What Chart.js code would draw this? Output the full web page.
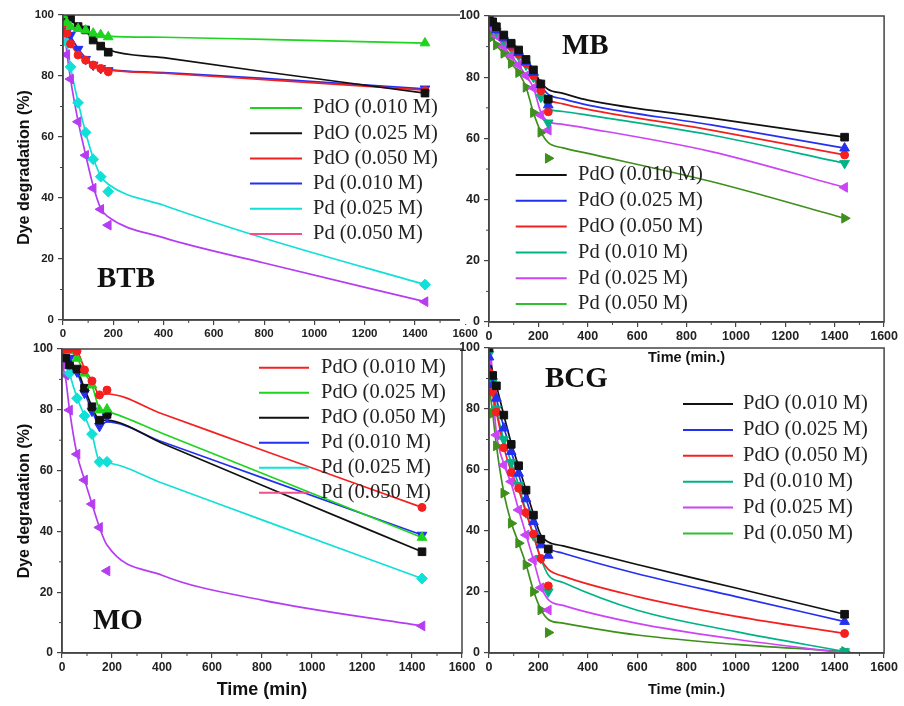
<!DOCTYPE html>
<html lang="en">
<head>
<meta charset="UTF-8">
<title>Dye degradation - BTB, MB, MO, BCG</title>
<script src="https://cdn.jsdelivr.net/npm/chart.js"></script>
<style>
  body { margin: 0; background: #fff; }
  #wrap { position: relative; width: 904px; height: 706px; overflow: hidden; }
  .panel { position: absolute; }
</style>
</head>
<body>
<div id="wrap">
  <div class="panel" style="left:0;top:0;width:480px;height:350px"><canvas id="cBTB"></canvas></div>
  <div class="panel" style="left:0;top:330px;width:480px;height:376px"><canvas id="cMO"></canvas></div>
  <div class="panel" style="left:450px;top:0;width:450px;height:372px"><canvas id="cMB"></canvas></div>
  <div class="panel" style="left:450px;top:330px;width:450px;height:376px"><canvas id="cBCG"></canvas></div>
</div>
<script>
// --- data ---
const xTicks = [0, 200, 400, 600, 800, 1000, 1200, 1400, 1600];
const yTicks = [0, 20, 40, 60, 80, 100];

const btbNames = ['PdO (0.010 M)', 'PdO (0.025 M)', 'PdO (0.050 M)', 'Pd (0.010 M)', 'Pd (0.025 M)', 'Pd (0.050 M)'];
const mbNames = btbNames;
const moNames = btbNames;
const bcgNames = btbNames;

// BTB
const btbTimes = [0, 15, 30, 60, 90, 120, 150, 180, 1440];
const btbMarks = [
  [100, 97.5, 96.2, 95.5, 95, 94, 93.5, 92.8, 90.8],
  [100, 99.5, 98.8, 96.2, 95.1, 91.8, 89.8, 87.8, 74.4],
  [97, 94, 90.5, 86.9, 85.2, 83.6, 82.5, 81.4, 75.2],
  [98, 94.5, 93.4, 88.8, 85.5, 83.6, 82.5, 81.8, 75.8],
  [100, 91, 83, 71.2, 61.5, 52.7, 47, 42.1, 11.6],
  [99.5, 87, 79, 65, 54, 43.2, 36.3, 31.1, 6]
];
const btbFitTimes = [0, 15, 30, 60, 90, 120, 150, 180, 400, 800, 1440];
const btbFit = [
  [100, 97.5, 96.2, 95.5, 94.9, 94.1, 93.5, 93.1, 92.7, 92, 90.8],
  [100, 99.3, 98.5, 96.3, 94.6, 92.2, 90.1, 88.6, 86, 81.4, 74.4],
  [97, 93.8, 90.8, 87, 85.2, 83.7, 82.6, 82, 80.9, 78.8, 75.4],
  [98, 95, 93, 89, 85.9, 83.8, 82.6, 82.1, 81.1, 79.2, 75.8],
  [100, 91, 83, 71.5, 61.5, 53.2, 47.3, 44.5, 37.6, 26.8, 11.6],
  [99.5, 88, 79, 65.2, 54.2, 44, 36.6, 33.8, 27, 18.7, 6]
];

// MB
const mbTimes = [0, 15, 30, 60, 90, 120, 150, 180, 210, 240, 1440];
const mbMarks = [
  [100, 98.1, 96.5, 93.8, 91.1, 88.9, 85.8, 82.4, 77.8, 72.8, 60.4],
  [100, 97.5, 95.5, 93, 90.5, 88, 85, 81.5, 77.5, 70.9, 56.8],
  [100, 97.5, 95.5, 92.8, 90, 87.5, 84.5, 80.5, 75.6, 68.7, 54.6],
  [99, 97, 95, 92, 89.5, 87, 84, 80, 73.5, 65.1, 51.9],
  [98, 96, 93.5, 90, 87, 84, 80.5, 76.5, 67.6, 62.7, 44],
  [95, 93.2, 90.5, 87.8, 84.5, 81.5, 76.7, 68.4, 62, 53.5, 33.9]
];
const mbFitTimes = [0, 15, 30, 60, 90, 120, 150, 180, 210, 240, 300, 400, 900, 1440];
const mbFit = [
  [100, 98.1, 96.5, 93.8, 91.1, 88.9, 85.8, 82.4, 78.2, 76, 74.7, 72.5, 66.6, 60.4],
  [100, 97.5, 95.5, 93, 90.5, 88, 85, 81.5, 77.2, 74.4, 72.9, 70.9, 64.4, 56.8],
  [100, 97.5, 95.5, 92.8, 90, 87.5, 84.5, 80.5, 75.8, 72.8, 71.3, 69.5, 62.7, 54.6],
  [99, 97, 95, 92, 89.5, 87, 84, 80, 74, 69.8, 68.8, 67.6, 61.1, 51.9],
  [98, 96, 93.5, 90, 87, 84, 80.5, 76.5, 68.5, 65.5, 64.6, 63.3, 55.7, 44],
  [95, 93.2, 90.5, 87.8, 84.5, 81.5, 76.7, 68.4, 62.2, 58.6, 56.9, 55.1, 45.9, 33.9]
];

// MO
const moTimes = [0, 15, 30, 60, 90, 120, 150, 180, 1440];
const moMarks = [
  [100, 100, 100, 99.3, 93.1, 89.5, 84.9, 86.5, 47.9],
  [100, 100, 99.5, 96.9, 92, 88.1, 79.9, 80.2, 38],
  [100, 97, 94.7, 93.4, 87.1, 81, 76.6, 78.5, 33.3],
  [100, 100, 97, 92.5, 85.5, 79.6, 74.6, 77.7, 38.8],
  [97, 97.5, 92, 83.8, 78, 72, 62.9, 62.9, 24.5],
  [95, 91.4, 79.9, 65.4, 56.9, 49, 41.3, 27, 8.9]
];
const moFitTimes = [0, 15, 30, 60, 90, 120, 150, 180, 400, 800, 1440];
const moFit = [
  [100, 100, 100, 99.3, 93.5, 89.5, 85, 85.2, 78.7, 66.8, 47.9],
  [100, 100, 99.5, 97, 92.2, 88, 80.5, 79.5, 72.3, 59.1, 38],
  [100, 97, 94.7, 93.2, 87, 81, 76.6, 76.5, 69, 55.2, 33.3],
  [100, 100, 97, 92.5, 85.7, 79.8, 75, 76, 69.5, 57.7, 38.8],
  [97, 97, 92, 84, 78, 72, 63, 62.5, 55.9, 43.8, 24.5],
  [95, 90, 80, 65.4, 57, 49, 41.3, 35.5, 25.6, 17.4, 8.9]
];

// BCG
const bcgTimes = [0, 15, 30, 60, 90, 120, 150, 180, 210, 240, 1440];
const bcgMarks = [
  [100, 91, 87.6, 78, 68.4, 61.4, 53.4, 45.2, 37.3, 34.1, 12.7],
  [97, 88, 83.5, 73.7, 66, 58.9, 50.5, 43, 35.4, 32, 10.3],
  [92, 85.5, 79, 67.3, 59.2, 54, 46, 39, 31, 22, 6.4],
  [98, 89, 80, 70, 62.5, 55, 46, 38.5, 31, 20.1, 0.5],
  [96, 87, 71.5, 61.6, 56.2, 46.9, 38.7, 30.5, 21.4, 14.1, 0],
  [88, 78.6, 67.9, 52.4, 42.5, 36, 28.9, 20.1, 14.1, 6.7, 0.5]
];
const bcgFitTimes = [0, 15, 30, 60, 90, 120, 150, 180, 210, 240, 300, 600, 1000, 1440];
const bcgFit = [
  [100, 92, 87.6, 78, 68.8, 61.2, 53.4, 45.6, 38.6, 36.4, 35.1, 29, 21.3, 12.7],
  [97, 89, 83.5, 74, 66, 58.5, 50.6, 43.2, 36.8, 34.3, 32.7, 26, 18.5, 10.3],
  [92, 85, 79, 67.5, 59.5, 53.5, 46, 38.5, 31, 27.4, 25.2, 18.5, 12, 6.4],
  [98, 89, 80, 70, 62.5, 55, 46.5, 38.8, 31, 25.6, 23.1, 14, 7, 0.5],
  [96, 86, 72, 62, 55.5, 47, 38.8, 30.6, 22, 17.5, 15.6, 9.7, 4.5, 0],
  [88, 78.6, 68, 52.6, 42.8, 36, 29, 20.5, 14.3, 11, 9.8, 5.9, 2.8, 0.5]
];

// --- styles ---
const GREEN = '#1ed41e', BLACK = '#111111', RED = '#f42020', BLUE = '#2330f0', CYAN = '#10e0d8',
      PURPLE = '#b53cf0', TEAL = '#00b386', VIOLET = '#cc44f5', OLIVE = '#3f8f1c', PINK = '#f0508c', LGREEN = '#2ec02e';
// [pointStyle, rotation, radius]
const UP = ['triangle', 0, 5.6], DOWN = ['triangle', 180, 5.6], LEFT = ['triangle', 270, 5.6], RIGHT = ['triangle', 90, 5.6],
      SQ = ['rect', 0, 5.4], CIR = ['circle', 0, 4], DIA = ['rectRot', 0, 5.4];

Chart.defaults.font.family = '"Liberation Sans", Arial, sans-serif';

const decor = {
  id: 'decor',
  beforeDraw(chart, args, o) {
    if (!o.cover) return;
    const c = chart.ctx;
    c.save();
    c.fillStyle = '#fff';
    c.fillRect(o.cover[0], o.cover[1], o.cover[2], o.cover[3]);
    c.restore();
  },
  afterDraw(chart, args, o) {
    const { ctx, chartArea: a, scales: { x, y } } = chart;
    ctx.save();
    ctx.strokeStyle = '#444';
    ctx.lineWidth = 1.5;
    ctx.strokeRect(a.left, a.top, a.right - a.left, a.bottom - a.top);
    // minor ticks between the labelled ones
    ctx.lineWidth = 1;
    ctx.beginPath();
    for (let i = 1; i < xTicks.length; i++) {
      const px = x.getPixelForValue((xTicks[i - 1] + xTicks[i]) / 2);
      ctx.moveTo(px, a.bottom); ctx.lineTo(px, a.bottom + 3);
    }
    for (let i = 1; i < yTicks.length; i++) {
      const py = y.getPixelForValue((yTicks[i - 1] + yTicks[i]) / 2);
      ctx.moveTo(a.left, py); ctx.lineTo(a.left - 3, py);
    }
    ctx.stroke();
    // dye name
    ctx.fillStyle = '#111';
    ctx.textBaseline = 'middle';
    ctx.font = 'bold 29px "Liberation Serif", serif';
    ctx.fillText(o.tag, o.tagX, o.tagY);
    // legend
    ctx.font = '20.5px "Liberation Serif", serif';
    o.names.forEach((name, i) => {
      const ly = o.legY + i * o.legDy;
      ctx.strokeStyle = o.legColors[i];
      ctx.lineWidth = 2;
      ctx.beginPath();
      ctx.moveTo(o.legX, ly); ctx.lineTo(o.legX + o.legLen, ly);
      ctx.stroke();
      ctx.fillStyle = '#222';
      ctx.fillText(name, o.legX + o.legLen + o.legGap, ly);
    });
    ctx.restore();
  }
};

function makePanel(id, p) {
  const datasets = [];
  p.names.forEach((name, i) => {
    datasets.push({
      label: name,
      data: p.fitTimes.map((t, k) => ({ x: t, y: p.fit[i][k] })),
      showLine: true, pointRadius: 0, borderColor: p.colors[i], borderWidth: 1.7,
      cubicInterpolationMode: 'monotone', order: 2
    });
    datasets.push({
      label: name + ' (data)',
      data: p.times.map((t, k) => ({ x: t, y: p.marks[i][k] })),
      showLine: false, pointStyle: p.shapes[i][0], pointRotation: p.shapes[i][1],
      pointRadius: p.shapes[i][2], pointBackgroundColor: p.colors[i], pointBorderColor: p.colors[i],
      pointBorderWidth: 1, order: 1
    });
  });

  new Chart(document.getElementById(id), {
    type: 'scatter',
    data: { datasets: datasets },
    options: {
      responsive: true,
      maintainAspectRatio: false,
      animation: false,
      layout: { padding: p.pad },
      plugins: {
        legend: { display: false },
        tooltip: { enabled: false },
        decor: p.decor
      },
      scales: {
        x: {
          type: 'linear', min: xTicks[0], max: xTicks[xTicks.length - 1],
          afterBuildTicks: s => { s.ticks = xTicks.map(v => ({ value: v })); },
          afterFit: s => { s.height = p.xH; },
          ticks: { color: '#222', font: { size: p.tickSize, weight: 'bold' }, padding: 2, maxRotation: 0, autoSkip: false,
                   callback: v => String(v) },
          grid: { drawOnChartArea: false, tickLength: 5, color: '#444', lineWidth: 1.2 },
          border: { color: '#444', width: 1.5 },
          title: p.xTitle
            ? { display: true, text: p.xTitle, color: '#111', font: { size: p.xTitleSize, weight: 'bold' }, padding: { top: 0, bottom: p.xTitlePad } }
            : { display: false }
        },
        y: {
          min: yTicks[0], max: yTicks[yTicks.length - 1],
          afterBuildTicks: s => { s.ticks = yTicks.map(v => ({ value: v })); },
          afterFit: s => { s.width = p.yW; },
          ticks: { color: '#222', font: { size: p.tickSize, weight: 'bold' }, padding: 4, autoSkip: false,
                   callback: v => String(v) },
          grid: { drawOnChartArea: false, tickLength: 5, color: '#444', lineWidth: 1.2 },
          border: { color: '#444', width: 1.5 },
          title: p.yTitle
            ? { display: true, text: p.yTitle, color: '#111', font: { size: 16, weight: 'bold' }, padding: { top: 15, bottom: 0 } }
            : { display: false }
        }
      }
    },
    plugins: [decor]
  });
}

makePanel('cBTB', {
  names: btbNames, times: btbTimes, marks: btbMarks, fitTimes: btbFitTimes, fit: btbFit,
  colors: [GREEN, BLACK, RED, BLUE, CYAN, PURPLE],
  shapes: [UP, SQ, CIR, DOWN, DIA, LEFT],
  pad: { left: 0, right: 12, top: 15, bottom: 0 }, yW: 63, xH: 30, tickSize: 11.5,
  yTitle: 'Dye degradation (%)',
  decor: { tag: 'BTB', tagX: 97, tagY: 280, names: btbNames,
           legColors: [GREEN, BLACK, RED, BLUE, CYAN, PINK],
           legX: 250, legY: 108, legDy: 25.2, legLen: 52, legGap: 11 }
});

makePanel('cMO', {
  names: moNames, times: moTimes, marks: moMarks, fitTimes: moFitTimes, fit: moFit,
  colors: [RED, GREEN, BLACK, BLUE, CYAN, PURPLE],
  shapes: [CIR, UP, SQ, DOWN, DIA, LEFT],
  pad: { left: 0, right: 18, top: 19, bottom: 0 }, yW: 62, xH: 53, tickSize: 12,
  yTitle: 'Dye degradation (%)', xTitle: 'Time (min)', xTitleSize: 18, xTitlePad: 5,
  decor: { tag: 'MO', tagX: 93, tagY: 292, names: moNames,
           legColors: [RED, GREEN, BLACK, BLUE, CYAN, PINK],
           legX: 259, legY: 37.7, legDy: 25, legLen: 50, legGap: 12 }
});

makePanel('cMB', {
  names: mbNames, times: mbTimes, marks: mbMarks, fitTimes: mbFitTimes, fit: mbFit,
  colors: [BLACK, BLUE, RED, TEAL, VIOLET, OLIVE],
  shapes: [SQ, UP, CIR, DOWN, LEFT, RIGHT],
  pad: { left: 0, right: 13, top: 16, bottom: 0 }, yW: 39, xH: 50, tickSize: 12.5,
  xTitle: 'Time (min.)', xTitleSize: 14.5, xTitlePad: 5,
  decor: { cover: [10, 0, 28, 324], tag: 'MB', tagX: 112, tagY: 47, names: mbNames,
           legColors: [BLACK, BLUE, RED, TEAL, VIOLET, LGREEN],
           legX: 65.7, legY: 175, legDy: 25.8, legLen: 51, legGap: 11.3 }
});

makePanel('cBCG', {
  names: bcgNames, times: bcgTimes, marks: bcgMarks, fitTimes: bcgFitTimes, fit: bcgFit,
  colors: [BLACK, BLUE, RED, TEAL, VIOLET, OLIVE],
  shapes: [SQ, UP, CIR, DOWN, LEFT, RIGHT],
  pad: { left: 0, right: 13, top: 18, bottom: 0 }, yW: 39, xH: 53, tickSize: 12.5,
  xTitle: 'Time (min.)', xTitleSize: 14.5, xTitlePad: 7,
  decor: { tag: 'BCG', tagX: 95, tagY: 50, names: bcgNames,
           legColors: [BLACK, BLUE, RED, TEAL, VIOLET, LGREEN],
           legX: 233, legY: 74, legDy: 25.9, legLen: 50, legGap: 10 }
});
</script>
</body>
</html>
